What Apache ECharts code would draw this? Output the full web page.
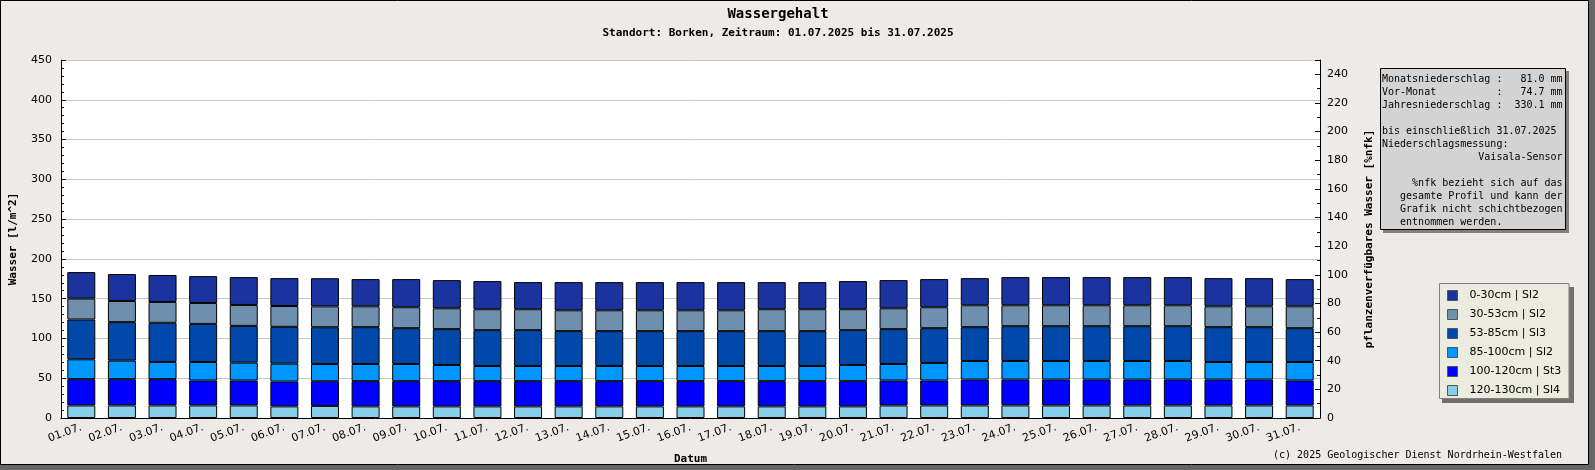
<!DOCTYPE html>
<html>
<head>
<meta charset="utf-8">
<script src="https://cdn.jsdelivr.net/npm/echarts@6/dist/echarts.min.js"></script>
<style>
  html, body { margin: 0; padding: 0; }
  #chart { width: 1595px; height: 470px; }
</style>
</head>
<body>
<div id="chart"></div>
<script>
    "use strict";

    // Datum (x axis)
    var days = ['01.07.', '02.07.', '03.07.', '04.07.', '05.07.', '06.07.', '07.07.', '08.07.', '09.07.', '10.07.',
        '11.07.', '12.07.', '13.07.', '14.07.', '15.07.', '16.07.', '17.07.', '18.07.', '19.07.', '20.07.',
        '21.07.', '22.07.', '23.07.', '24.07.', '25.07.', '26.07.', '27.07.', '28.07.', '29.07.', '30.07.', '31.07.'];

    var layerNames = ['0-30cm | Sl2', '30-53cm | Sl2', '53-85cm | Sl3', '85-100cm | Sl2', '100-120cm | St3', '120-130cm | Sl4'];
    var layerColors = ['#1A339F', '#6F8FAF', '#0048AA', '#0096FF', '#0000FF', '#87CEEB'];

    // Wasser [l/m^2] per Schicht
    var w0_30 = [33.3, 33.8, 33.8, 33.7, 35.0, 35.0, 35.4, 34.2, 35.4, 35.4, 35.4, 34.1, 35.4, 35.4, 35.4, 35.4,
        35.4, 34.1, 34.1, 35.4, 35.4, 35.4, 34.1, 35.4, 35.4, 35.4, 35.4, 35.4, 35.4, 35.4, 34.2];
    var w30_53 = [26.3, 26.6, 26.2, 26.3, 26.3, 26.2, 26.2, 26.2, 26.3, 26.2, 26.3, 26.3, 26.2, 26.2, 26.2, 26.2,
        26.2, 27.5, 27.5, 26.3, 26.2, 26.3, 27.5, 26.3, 26.3, 26.3, 26.3, 26.3, 26.2, 26.2, 27.5];
    var w53_85 = [50.0, 48.4, 49.2, 47.9, 46.2, 46.3, 46.3, 46.3, 45.0, 45.0, 45.0, 45.0, 43.8, 43.8, 43.8, 43.8,
        43.8, 43.8, 43.8, 43.7, 43.8, 43.7, 42.5, 43.7, 43.7, 43.7, 43.7, 43.7, 43.8, 43.8, 42.5];
    var w85_100 = [25.0, 23.3, 21.7, 23.3, 22.5, 22.5, 21.6, 21.6, 21.6, 20.4, 19.1, 19.1, 19.1, 19.1, 19.1, 19.1,
        19.1, 19.1, 19.1, 20.4, 20.8, 22.1, 23.4, 23.4, 23.4, 23.4, 23.4, 23.4, 22.1, 22.1, 23.3];
    var w100_120 = [33.0, 33.0, 33.0, 31.3, 31.3, 31.2, 31.0, 31.7, 31.7, 31.7, 31.7, 31.7, 31.7, 31.7, 31.7, 31.7,
        31.7, 31.7, 31.7, 31.7, 31.3, 31.3, 32.5, 32.5, 32.5, 32.5, 32.5, 32.5, 32.5, 32.5, 31.3];
    var w120_130 = [15.8, 15.8, 15.8, 15.8, 15.8, 14.6, 15.2, 14.6, 14.6, 14.6, 14.6, 14.6, 14.6, 14.6, 14.6, 14.6,
        14.6, 14.6, 14.6, 14.6, 15.8, 15.8, 15.8, 15.8, 15.8, 15.8, 15.8, 15.8, 15.8, 15.8, 15.8];

    var infoLines = [
        'Monatsniederschlag :   81.0 mm',
        'Vor-Monat          :   74.7 mm',
        'Jahresniederschlag :  330.1 mm',
        '',
        'bis einschließlich 31.07.2025',
        'Niederschlagsmessung:',
        '                Vaisala-Sensor',
        '',
        '     %nfk bezieht sich auf das',
        '   gesamte Profil und kann der',
        '   Grafik nicht schichtbezogen',
        '   entnommen werden.'
    ];

    var mono = '"DejaVu Sans Mono", monospace';
    var sans = '"DejaVu Sans", sans-serif';

    // bottom layer first in the stack
    var layerData = [w120_130, w100_120, w85_100, w53_85, w30_53, w0_30];
    var series = [];
    for (var i = 0; i < layerData.length; i++) {
        var idx = 5 - i;
        series.push({
            name: layerNames[idx],
            type: 'bar',
            stack: 'wasser',
            barWidth: 28,
            itemStyle: {
                color: layerColors[idx],
                borderColor: '#000',
                borderWidth: 1
            },
            emphasis: {disabled: true},
            data: layerData[i]
        });
    }

    var chart = echarts.init(document.getElementById('chart'));

    var option = {
        backgroundColor: '#666666',
        animation: false,
        graphic: [
            {
                type: 'rect', z: -10,
                shape: {x: 0.5, y: 0.5, width: 1588, height: 464},
                style: {fill: '#EDEAE8', stroke: '#000', lineWidth: 1}
            },
            {
                type: 'text', x: 778, y: 14,
                style: {text: 'Wassergehalt', font: 'bold 14px ' + mono, fill: '#000', align: 'center', verticalAlign: 'middle'}
            },
            {
                type: 'text', x: 778, y: 33,
                style: {text: 'Standort: Borken, Zeitraum: 01.07.2025 bis 31.07.2025', font: 'bold 11px ' + mono, fill: '#000', align: 'center', verticalAlign: 'middle'}
            },
            // info box
            {
                type: 'rect',
                shape: {x: 1383, y: 71, width: 186, height: 162},
                style: {fill: '#808080'}
            },
            {
                type: 'rect',
                shape: {x: 1380.5, y: 68.5, width: 185, height: 161},
                style: {fill: '#D3D3D3', stroke: '#000', lineWidth: 1}
            },
            {
                type: 'text', x: 1382, y: 72.5,
                style: {text: infoLines.join('\n'), font: '10px ' + mono, lineHeight: 13, fill: '#000', verticalAlign: 'top'}
            },
            // legend box
            {
                type: 'rect',
                shape: {x: 1442, y: 287, width: 132, height: 116},
                style: {fill: '#707070'}
            },
            {
                type: 'rect',
                shape: {x: 1439.5, y: 283.5, width: 129.5, height: 115},
                style: {fill: '#ECEBDF', stroke: '#808080', lineWidth: 1}
            },
            {
                type: 'text', x: 1562, y: 455,
                style: {text: '(c) 2025 Geologischer Dienst Nordrhein-Westfalen', font: '10px ' + mono, fill: '#000', align: 'right', verticalAlign: 'middle'}
            }
        ],
        legend: {
            orient: 'vertical',
            left: 1447,
            top: 290,
            padding: 0,
            itemWidth: 10,
            itemHeight: 10,
            itemGap: 8,
            icon: 'rect',
            itemStyle: {borderColor: '#555', borderWidth: 1},
            textStyle: {fontFamily: sans, fontSize: 11, lineHeight: 11, color: '#000', padding: [0, 0, 0, 7]},
            selectedMode: false,
            data: layerNames
        },
        grid: {
            left: 61, right: 275, top: 60, bottom: 50,
            show: true, backgroundColor: '#fff', borderWidth: 0
        },
        xAxis: {
            type: 'category',
            data: days,
            name: 'Datum',
            nameLocation: 'middle',
            nameGap: 36,
            nameTextStyle: {fontFamily: mono, fontWeight: 'bold', fontSize: 11, color: '#000'},
            axisLine: {lineStyle: {color: '#000', width: 1}},
            axisTick: {inside: true, length: 5, lineStyle: {color: '#000'}},
            axisLabel: {interval: 0, rotate: 20, margin: 9, fontFamily: sans, fontSize: 11, color: '#000'}
        },
        yAxis: [
            {
                type: 'value',
                min: 0, max: 450, interval: 50,
                name: 'Wasser [l/m^2]',
                nameLocation: 'middle',
                nameRotate: 90,
                nameGap: 42,
                nameTextStyle: {fontFamily: mono, fontWeight: 'bold', fontSize: 11, color: '#000'},
                axisLine: {show: true, lineStyle: {color: '#000'}},
                axisTick: {show: true, inside: true, length: 5, lineStyle: {color: '#000'}},
                minorTick: {show: true, splitNumber: 5, length: 3, lineStyle: {color: '#000'}},
                axisLabel: {margin: 9, fontFamily: sans, fontSize: 11, color: '#000'},
                splitLine: {show: true, lineStyle: {color: '#C8C8C8', width: 1}}
            },
            {
                type: 'value',
                position: 'right',
                min: 0, max: 250, interval: 20,
                name: 'pflanzenverfügbares Wasser [%nfk]',
                nameLocation: 'middle',
                nameRotate: 90,
                nameGap: 44,
                nameTextStyle: {fontFamily: mono, fontWeight: 'bold', fontSize: 11, color: '#000'},
                axisLine: {show: true, lineStyle: {color: '#000'}},
                axisTick: {show: true, inside: true, length: 5, lineStyle: {color: '#000'}},
                minorTick: {show: true, splitNumber: 2, length: 3, lineStyle: {color: '#000'}},
                axisLabel: {margin: 7, showMaxLabel: false, fontFamily: sans, fontSize: 11, color: '#000'},
                splitLine: {show: false}
            }
        ],
        series: series
    };

    chart.setOption(option);
</script>
</body>
</html>
